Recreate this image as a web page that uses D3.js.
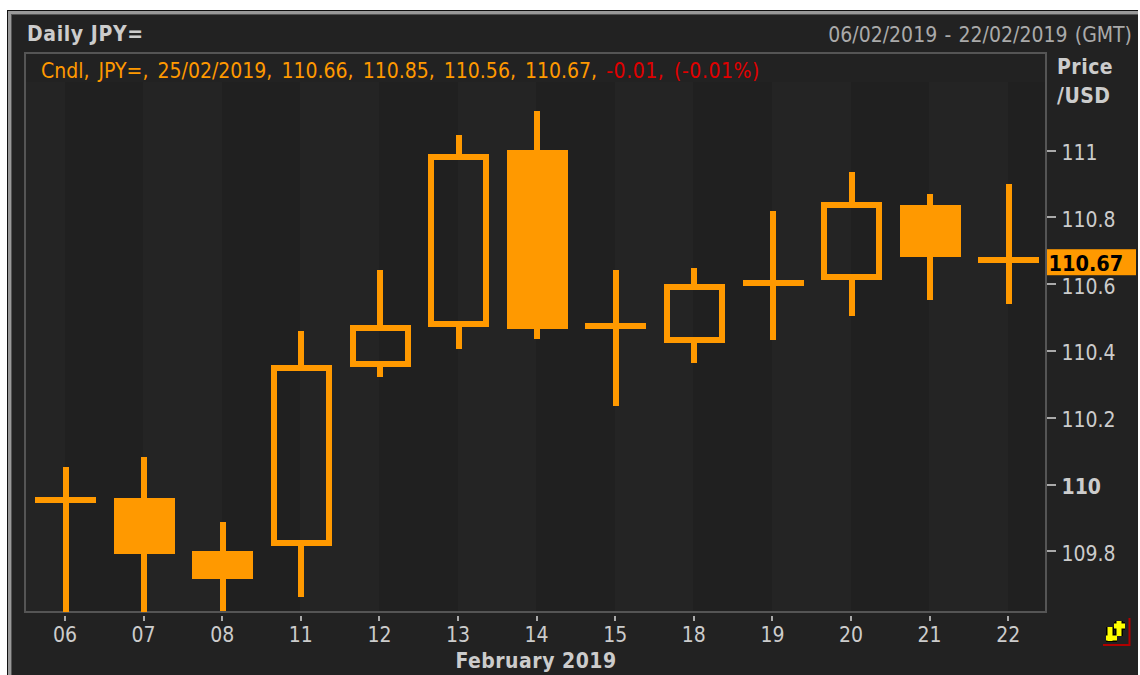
<!DOCTYPE html>
<html><head><meta charset="utf-8">
<script src="https://cdn.jsdelivr.net/npm/d3@7"></script>
<style>
html,body{margin:0;padding:0;background:#fff;overflow:hidden}
svg{display:block}
text{font-family:"DejaVu Sans Condensed","DejaVu Sans",sans-serif;font-stretch:condensed}
</style></head><body>
<svg id="c" width="1140" height="675"></svg>
<script>
const days   = ["06","07","08","11","12","13","14","15","18","19","20","21","22"];
const opens  = [109.952,109.958,109.799,109.823,110.359,110.478,111.000,110.473,110.431,110.602,110.620,110.835,110.671];
const closes = [109.952,109.790,109.716,110.347,110.467,110.979,110.464,110.473,110.590,110.602,110.835,110.680,110.671];
const highs  = [110.051,110.081,109.886,110.458,110.641,111.045,111.117,110.641,110.647,110.817,110.934,110.868,110.898];
const lows   = [109.600,109.600,109.620,109.662,110.320,110.404,110.434,110.234,110.362,110.431,110.503,110.551,110.539];
const priceTicks = [109.8,110,110.2,110.4,110.6,110.8,111];
const lastPrice = 110.67;
const legendMain = "Cndl, JPY=, 25/02/2019, 110.66, 110.85, 110.56, 110.67, ";
const legendChange = "-0.01, (-0.01%)";

const ORANGE="#ff9900", TXT="#cccccc";
const svg=d3.select("#c");
const L=25,R=1046,T=53,B=612;
const x=d3.scalePoint().domain(days).range([64.5,1007.7]);
const y=d3.scaleLinear().domain([111-(B-150)/334,111+(150-T)/334]).range([B,T]);

// window frame
svg.append("rect").attr("x",7).attr("y",10).attr("width",1131).attr("height",665).attr("fill","#111");
svg.append("rect").attr("x",8).attr("y",11).attr("width",1130).attr("height",664).attr("fill","#999");
svg.append("rect").attr("x",11).attr("y",14).attr("width",1127).attr("height",661).attr("fill","#555");
svg.append("rect").attr("x",12).attr("y",15).attr("width",1126).attr("height",660).attr("fill","#222222");

// plot background and stripes
const clip=svg.append("defs").append("clipPath").attr("id","plot");
clip.append("rect").attr("x",L).attr("y",T).attr("width",R-L).attr("height",B-T);
svg.append("rect").attr("x",L).attr("y",T).attr("width",R-L).attr("height",B-T).attr("fill","#222222");
svg.append("rect").attr("x",L).attr("y",82).attr("width",R-L).attr("height",B-82).attr("fill","#242424");
svg.append("g").selectAll("rect").data(days.filter((d,i)=>i%2===0)).join("rect")
  .attr("x",d=>Math.round(x(d)))
  .attr("y",82).attr("height",B-82)
  .attr("width",d=>{const i=days.indexOf(d);const e=i+1<days.length?x(days[i+1]):R;return Math.round(e)-Math.round(x(d));})
  .attr("fill","#202020");
svg.append("rect").attr("x",L).attr("y",T).attr("width",R-L).attr("height",B-T)
  .attr("fill","none").attr("stroke","#555").attr("stroke-width",2);

// candles
const rows=days.map((d,i)=>({d,o:opens[i],c:closes[i],h:highs[i],l:lows[i]}));
const g=svg.append("g").attr("clip-path","url(#plot)").attr("shape-rendering","crispEdges");
const wx=d=>Math.round(x(d)+1);
const bx=d=>Math.round(x(d)+1-30.3);
const Y=v=>Math.round(y(v));
g.selectAll(".up").data(rows).join("rect")
  .attr("x",r=>wx(r.d)-3).attr("width",6)
  .attr("y",r=>Y(r.h)).attr("height",r=>Y(Math.max(r.o,r.c))-Y(r.h))
  .attr("fill",ORANGE);
g.selectAll(".dn").data(rows).join("rect")
  .attr("x",r=>wx(r.d)-3).attr("width",6)
  .attr("y",r=>Y(Math.min(r.o,r.c))).attr("height",r=>Y(r.l)-Y(Math.min(r.o,r.c)))
  .attr("fill",ORANGE);
g.selectAll(".body").data(rows.filter(r=>r.o!==r.c)).join("rect")
  .attr("x",r=>r.c>r.o?bx(r.d)+3:bx(r.d))
  .attr("width",r=>r.c>r.o?55:61)
  .attr("y",r=>Y(Math.max(r.o,r.c)))
  .attr("height",r=>Y(Math.min(r.o,r.c))-Y(Math.max(r.o,r.c)))
  .attr("fill",r=>r.c>r.o?"none":ORANGE)
  .attr("stroke",r=>r.c>r.o?ORANGE:"none")
  .attr("stroke-width",6);
g.selectAll(".doji").data(rows.filter(r=>r.o===r.c)).join("rect")
  .attr("x",r=>bx(r.d)).attr("width",61)
  .attr("y",r=>Y(r.c)-3).attr("height",6)
  .attr("fill",ORANGE);

// axes
const FF='"DejaVu Sans Condensed","DejaVu Sans",sans-serif';
const yAxis=d3.axisRight(y).tickValues(priceTicks).tickSize(9).tickPadding(6).tickFormat(d3.format("~g"));
const ya=svg.append("g").attr("transform","translate(1046.5,0)").call(yAxis);
ya.select(".domain").remove();
ya.selectAll("line").attr("stroke","#aaa").attr("stroke-width",2).attr("shape-rendering","crispEdges");
ya.selectAll("text").attr("fill",TXT).attr("font-size",21).attr("dy",0).attr("y",9.5)
  .attr("font-weight",d=>d===110?"bold":"normal")
  .style("font-family",FF);

const xAxis=d3.axisBottom(x).tickSize(5).tickPadding(7);
const xa=svg.append("g").attr("transform","translate(0,616)").call(xAxis);
xa.select(".domain").remove();
xa.selectAll("line").attr("stroke","#aaa").attr("stroke-width",2).attr("shape-rendering","crispEdges");
xa.selectAll("text").attr("fill",TXT).attr("font-size",21).attr("dy",0).attr("y",26)
  .style("font-family",FF);

// texts
const t=(s,px,py,size,fill,weight,anchor)=>svg.append("text").attr("x",px).attr("y",py).attr("font-size",size)
  .attr("fill",fill).attr("font-weight",weight||"normal").attr("text-anchor",anchor||"start").text(s);
t("Daily JPY=",27,41,21,TXT,"bold").style("letter-spacing","0.6px");
t("06/02/2019 - 22/02/2019 (GMT)",1132,42,21,"#aaaaaa","normal","end").style("word-spacing","1.3px");
const leg=svg.append("text").attr("x",41).attr("y",78).attr("font-size",21).attr("fill",ORANGE).style("word-spacing","3.1px");
leg.append("tspan").style("white-space","pre").text(legendMain);
leg.append("tspan").attr("fill","#e00000").style("letter-spacing","0.55px").text(legendChange);
t("Price",1057,74,21,TXT,"bold").style("letter-spacing","0.5px");
t("/USD",1057,103,21,TXT,"bold").style("letter-spacing","0.5px");
t("February 2019",536,668,21,TXT,"bold","middle").style("letter-spacing","0.5px");

// last price marker
svg.append("rect").attr("x",1047).attr("y",y(lastPrice)-11).attr("width",89).attr("height",26).attr("fill",ORANGE);
t(d3.format(".2f")(lastPrice),1048.5,y(lastPrice)+10.5,21.5,"#000","bold");

// corner logo
const logo=svg.append("g");
const logoLines=[[1106,638,1117,638],[1110,627,1110,641],[1114,626,1125,626],[1119,621,1119,636]];
[["#000",8],["#ffff00",5]].forEach(([c,w])=>{
  logo.selectAll(null).data(logoLines).join("line")
   .attr("x1",d=>d[0]).attr("y1",d=>d[1]).attr("x2",d=>d[2]).attr("y2",d=>d[3])
   .attr("stroke",c).attr("stroke-width",w);
});
logo.append("path").attr("d","M1103,645H1129.5V618").attr("fill","none").attr("stroke","#b00000").attr("stroke-width",2);
</script>
</body></html>
